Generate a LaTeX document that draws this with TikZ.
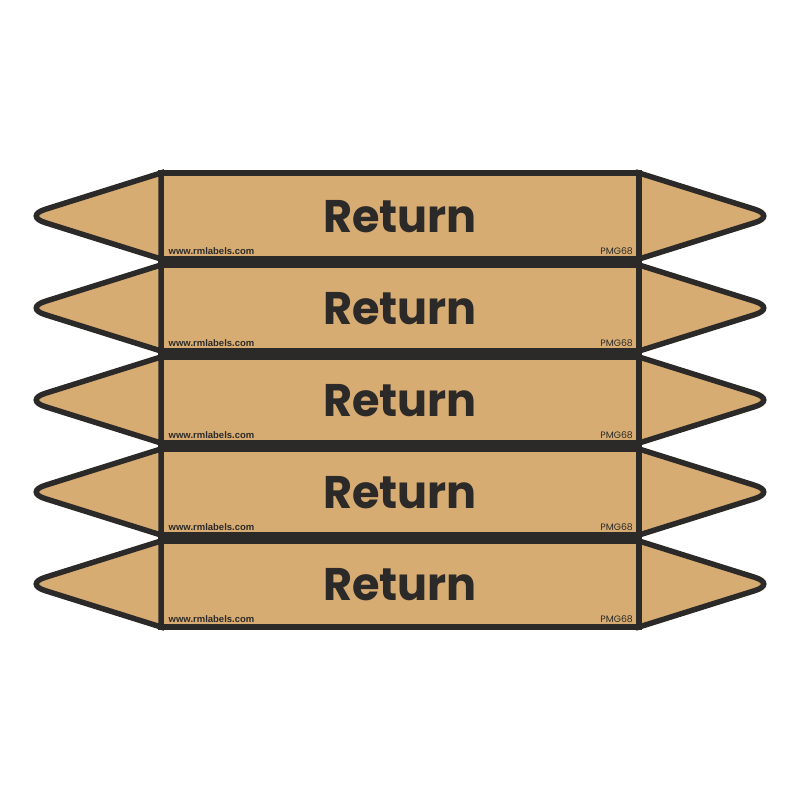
\documentclass[tikz,border=0pt]{standalone}
\usepackage{fontspec}
\setmainfont{Liberation Sans}
\newfontfamily\poppinsfont{Poppins}
\usepackage{tikz}
\definecolor{pipefill}{HTML}{D7AC72}
\definecolor{pipeink}{HTML}{2B2A29}
\tikzset{
	pipeline/.style={line width=0.55mm, color=pipeink, line join=miter},
	pipetitle/.style={inner sep=0, anchor=base, text=pipeink, xscale=0.975, font=\poppinsfont\bfseries\fontsize{13}{15}\selectfont},
	pipesite/.style={inner sep=0, anchor=base west, text=pipeink, font=\bfseries\fontsize{2.7}{3}\selectfont},
	pipecode/.style={inner sep=0, anchor=base east, text=pipeink, font=\poppinsfont\fontsize{2.65}{3}\selectfont}
}
\def\pipemarker(#1:#2){
	\draw[pipeline, fill=pipefill] (1.61, #2+0.43) rectangle (6.39, #2-0.43);
	\draw[pipeline, fill=pipefill] (1.61, #2+0.43) [rounded corners=0.22cm] -- (0.24, #2) [sharp corners] -- (1.61, #2-0.43) -- cycle;
	\draw[pipeline, fill=pipefill] (6.39, #2+0.43) [rounded corners=0.22cm] -- (7.76, #2) [sharp corners] -- (6.39, #2-0.43) -- cycle;
	\node[pipetitle] (title#1) at (4, #2-0.165) {Return};
	\node[pipesite] (site#1) at (1.68, #2-0.385) {www.rmlabels.com};
	\node[pipecode] (code#1) at (6.335, #2-0.385) {PMG68};
}

\begin{document}
\begin{tikzpicture}
		%%%%% START %%%%%
		
		\useasboundingbox (0, 0) rectangle (8, 8);
		
		\pipemarker(a:5.84)
		\pipemarker(b:4.92)
		\pipemarker(c:4.00)
		\pipemarker(d:3.08)
		\pipemarker(e:2.16)
		
		%%%%% END %%%%%
	\end{tikzpicture}
\end{document}
